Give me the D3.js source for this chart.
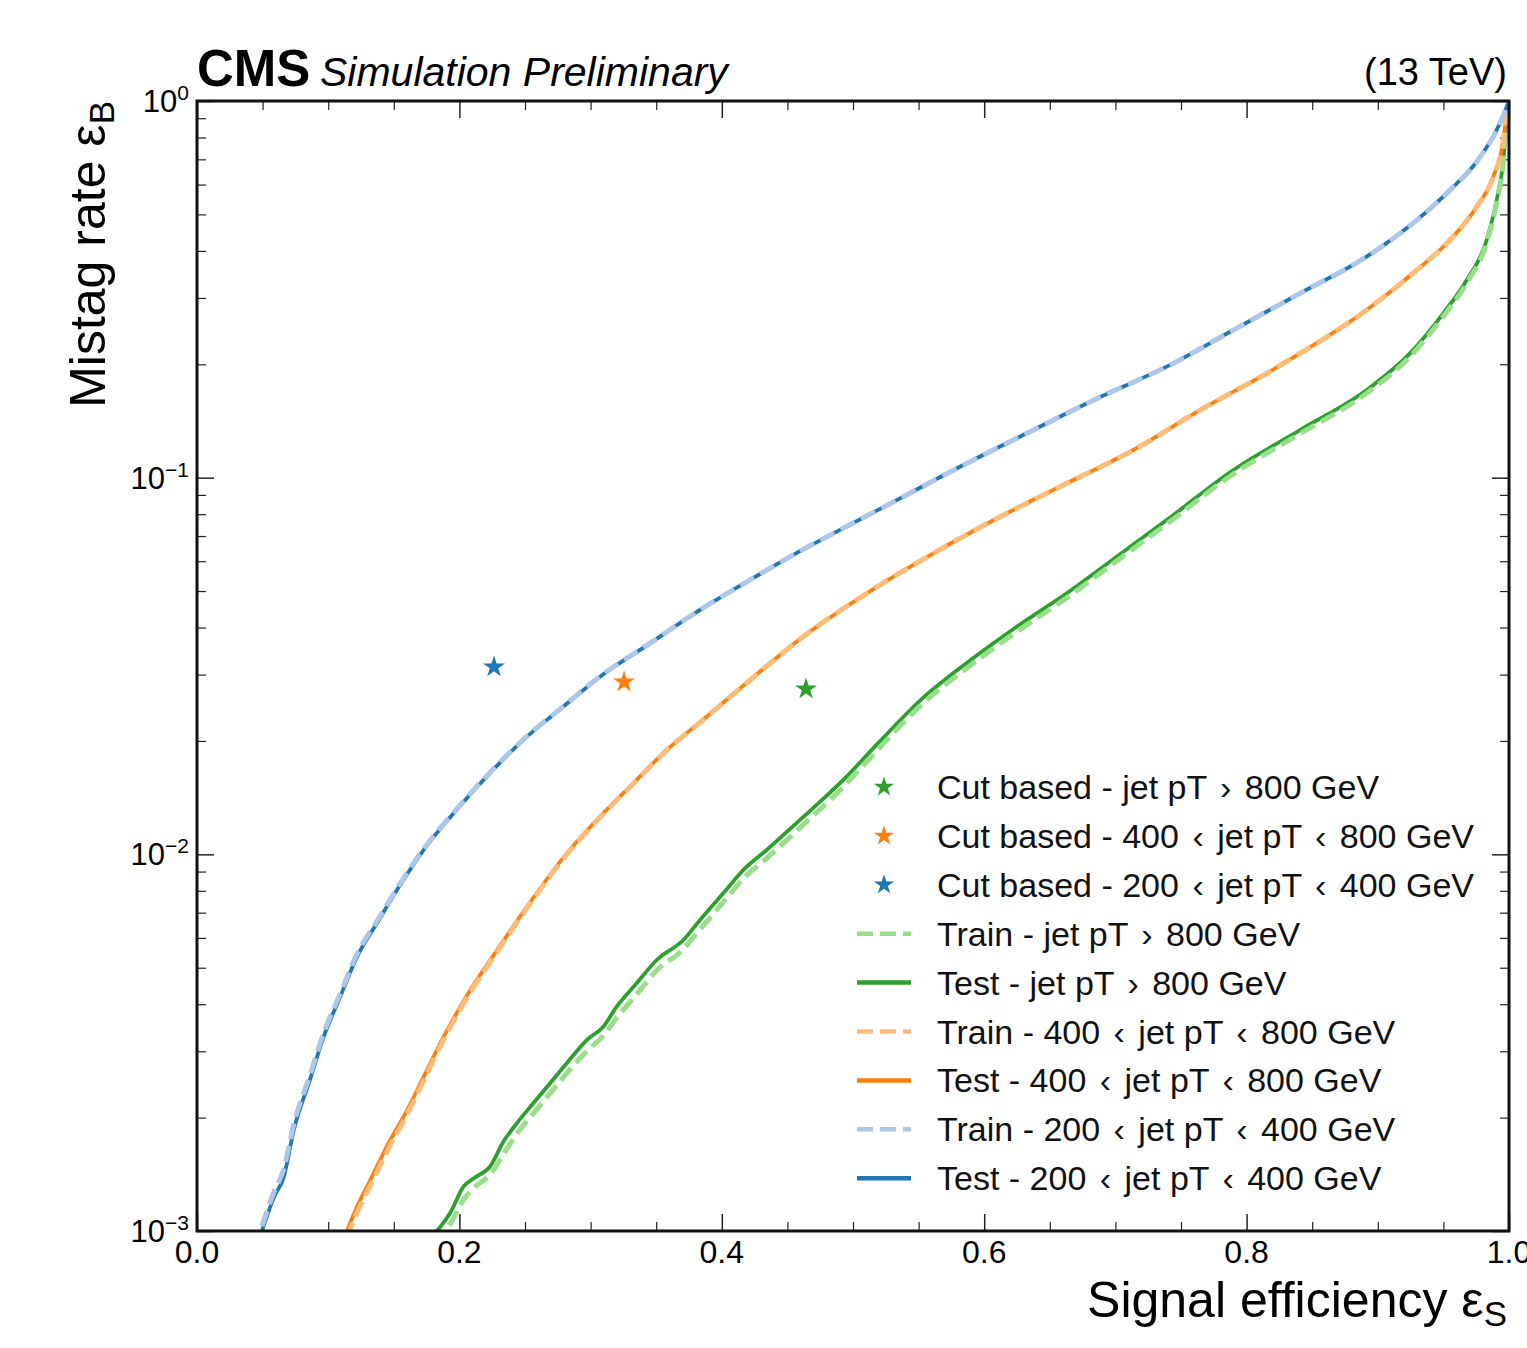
<!DOCTYPE html>
<html>
<head>
<meta charset="utf-8">
<script src="https://cdn.jsdelivr.net/npm/d3@7"></script>
<style>
  html, body { margin: 0; padding: 0; background: #fff; }
  svg { display: block; font-family: "Liberation Sans", Arial, Helvetica, sans-serif; }
</style>
</head>
<body>
<div id="chart"></div>
<script>
// ROC curves: mistag rate vs signal efficiency, three jet pT bins

// 200 < pT < 400 (blue)
const sigEffBlue = [0.0495,0.0587,0.0661,0.0737,0.0861,0.0966,0.1092,0.1220,0.1372,0.1524,0.1728,0.1979,0.2233,0.2487,0.2792,0.3072,0.3453,0.3834,0.4215,0.4596,0.4850,0.5358,0.5867,0.6374,0.6883,0.7391,0.7899,0.8407,0.8915,0.9297,0.9550,0.9754,0.9931,1.0];
const testBlue = [0.00100,0.00123,0.00139,0.00185,0.00252,0.00328,0.00419,0.00535,0.00657,0.00804,0.01028,0.01313,0.01644,0.02012,0.02467,0.02963,0.03633,0.04454,0.05351,0.06380,0.07113,0.08811,0.1092,0.1338,0.1637,0.1971,0.2466,0.3087,0.3861,0.4831,0.5802,0.6901,0.8727,1.0];
const trainBlue = [0.00103,0.00127,0.00146,0.00192,0.00259,0.00336,0.00427,0.00544,0.00665,0.00812,0.01035,0.01318,0.01650,0.02018,0.02470,0.02966,0.03636,0.04456,0.05352,0.06382,0.07110,0.08805,0.1091,0.1337,0.1636,0.1970,0.2465,0.3086,0.3860,0.4830,0.5800,0.6900,0.8725,1.0];

// 400 < pT < 800 (orange)
const sigEffOrange = [0.1143,0.1220,0.1321,0.1473,0.1575,0.1728,0.1880,0.2083,0.2287,0.2515,0.2818,0.3072,0.3325,0.3580,0.3834,0.4088,0.4342,0.4596,0.5104,0.5612,0.6120,0.6629,0.7137,0.7645,0.8153,0.8407,0.8915,0.9297,0.9550,0.9754,0.9880,0.9957,0.9982,1.0];
const testOrange = [0.00100,0.001161,0.001366,0.001744,0.002011,0.002568,0.003279,0.004362,0.005570,0.007261,0.01006,0.01259,0.01544,0.01892,0.02243,0.02665,0.03162,0.03729,0.04932,0.06298,0.07873,0.09661,0.1184,0.1512,0.1893,0.2138,0.2787,0.3558,0.4275,0.5240,0.6295,0.7880,0.9275,1.0];
const trainOrange = [0.00096,0.00112,0.00132,0.00169,0.00196,0.00251,0.00322,0.00430,0.00551,0.00720,0.01000,0.01254,0.01540,0.01889,0.02241,0.02663,0.03160,0.03727,0.04930,0.06296,0.07870,0.09658,0.1183,0.1511,0.1892,0.2137,0.2786,0.3557,0.4274,0.5239,0.6294,0.7879,0.9274,1.0];

// pT > 800 (green)
const sigEffGreen = [0.1829,0.1928,0.2031,0.2119,0.2233,0.2336,0.2437,0.2563,0.2691,0.2818,0.2970,0.3097,0.3199,0.3351,0.3504,0.3707,0.3834,0.4011,0.4164,0.4342,0.4596,0.4926,0.5206,0.5511,0.5867,0.6248,0.6629,0.7010,0.7391,0.7899,0.8407,0.8915,0.9245,0.9499,0.9678,0.9830,0.9906,0.9957,0.9982,1.0];
const testGreen = [0.00100,0.001114,0.001311,0.001387,0.001482,0.001728,0.001931,0.002183,0.002467,0.002788,0.003214,0.003487,0.003940,0.004546,0.005242,0.005923,0.006694,0.007879,0.009088,0.01027,0.01234,0.01576,0.01997,0.02560,0.03222,0.04021,0.04932,0.06168,0.07717,0.1048,0.1338,0.1709,0.2138,0.2731,0.3347,0.4275,0.5460,0.6973,0.8906,1.0];
const trainGreen = [0.00092,0.00104,0.00121,0.00131,0.00141,0.00160,0.00181,0.00205,0.00232,0.00262,0.00300,0.00330,0.00368,0.00425,0.00492,0.00560,0.00632,0.00746,0.00862,0.00976,0.01176,0.01510,0.01925,0.02475,0.03120,0.03900,0.04795,0.06010,0.07530,0.10230,0.13080,0.16750,0.20950,0.26800,0.32900,0.42100,0.53900,0.69000,0.88500,1.0];

// cut based working points (green, orange, blue)
const cutEff = [0.4642, 0.3255, 0.2264];
const cutMistag = [0.02748, 0.02868, 0.03144];

const legendLabels = [
  'Cut based - jet pT \u203a 800 GeV',
  'Cut based - 400 \u2039 jet pT \u2039 800 GeV',
  'Cut based - 200 \u2039 jet pT \u2039 400 GeV',
  'Train - jet pT \u203a 800 GeV',
  'Test - jet pT \u203a 800 GeV',
  'Train - 400 \u2039 jet pT \u2039 800 GeV',
  'Test - 400 \u2039 jet pT \u2039 800 GeV',
  'Train - 200 \u2039 jet pT \u2039 400 GeV',
  'Test - 200 \u2039 jet pT \u2039 400 GeV'
];

const xMajor = [0.0, 0.2, 0.4, 0.6, 0.8, 1.0];
const yMajor = [1e-3, 1e-2, 1e-1, 1];
const yExp = ['\u22123', '\u22122', '\u22121', '0'];

// colours
const dark = {green: '#2ca02c', orange: '#ff7f0e', blue: '#1f77b4'};
const light = {green: '#98df8a', orange: '#ffbb78', blue: '#aec7e8'};

const W = 1527, H = 1348;
const margin = {top: 101, right: 18, bottom: 117, left: 197};
const width = W - margin.left - margin.right;   // 1312
const height = H - margin.top - margin.bottom;  // 1130

const svg = d3.select('#chart').append('svg')
  .attr('width', W).attr('height', H);

const g = svg.append('g').attr('transform', `translate(${margin.left},${margin.top})`);

const x = d3.scaleLinear().domain([0, 1]).range([0, width]);
const y = d3.scaleLog().domain([1e-3, 1]).range([height, 0]);

// minor tick values
const xMinor = d3.range(0, 1.0001, 0.05).filter(v => Math.abs(v * 5 - Math.round(v * 5)) > 1e-6);
const yMinor = [];
[1e-3, 1e-2, 1e-1].forEach(d => { for (let k = 2; k <= 9; k++) yMinor.push(d * k); });

svg.append('defs').append('clipPath').attr('id', 'plotclip')
  .append('rect').attr('width', width).attr('height', height);

// ticks (pointing inward, on all four sides)
function tickAxis(axis, transform, size, vals, sw) {
  const a = g.append('g').attr('transform', transform)
    .call(axis.tickValues(vals).tickSize(size).tickFormat(''));
  a.select('.domain').remove();
  a.selectAll('line').attr('stroke', '#222').attr('stroke-width', sw);
}
tickAxis(d3.axisBottom(x), `translate(0,${height})`, -17, xMajor, 1.5);
tickAxis(d3.axisBottom(x), `translate(0,${height})`, -9, xMinor, 1.2);
tickAxis(d3.axisTop(x), 'translate(0,0)', -17, xMajor, 1.5);
tickAxis(d3.axisTop(x), 'translate(0,0)', -9, xMinor, 1.2);
tickAxis(d3.axisLeft(y), 'translate(0,0)', -17, yMajor, 1.5);
tickAxis(d3.axisLeft(y), 'translate(0,0)', -9, yMinor, 1.2);
tickAxis(d3.axisRight(y), `translate(${width},0)`, -17, yMajor, 1.5);
tickAxis(d3.axisRight(y), `translate(${width},0)`, -9, yMinor, 1.2);

// tick labels
g.selectAll('.xlab').data(xMajor).enter().append('text')
  .attr('x', d => x(d)).attr('y', height + 32)
  .attr('text-anchor', 'middle').attr('font-size', 32)
  .text(d => d.toFixed(1));

const ylab = g.selectAll('.ylab').data(yMajor).enter().append('text')
  .attr('x', -8).attr('y', d => y(d) + 11)
  .attr('text-anchor', 'end').attr('font-size', 31);
ylab.append('tspan').text('10');
ylab.append('tspan').attr('dy', -12).attr('font-size', 21).text((d, i) => yExp[i]);

// curves
const line = d3.line().curve(d3.curveMonotoneX)
  .x(d => x(d[0])).y(d => y(d[1]));
const curves = g.append('g').attr('clip-path', 'url(#plotclip)');

const series = [
  {eff: sigEffGreen, test: testGreen, train: trainGreen, c: 'green'},
  {eff: sigEffOrange, test: testOrange, train: trainOrange, c: 'orange'},
  {eff: sigEffBlue, test: testBlue, train: trainBlue, c: 'blue'}
];
series.forEach(s => {
  curves.append('path').datum(s.eff.map((e, i) => [e, s.test[i]]))
    .attr('fill', 'none').attr('stroke', dark[s.c]).attr('stroke-width', 3.8)
    .attr('d', line);
  curves.append('path').datum(s.eff.map((e, i) => [e, s.train[i]]))
    .attr('fill', 'none').attr('stroke', light[s.c]).attr('stroke-width', 5)
    .attr('stroke-dasharray', '16,7')
    .attr('d', line);
});

// cut based stars
const star = d3.symbol().type(d3.symbolStar).size(150);
const starCols = ['green', 'orange', 'blue'];
g.selectAll('.cut').data(cutEff).enter().append('path')
  .attr('transform', (d, i) => `translate(${x(d)},${y(cutMistag[i])})`)
  .attr('d', star).attr('fill', (d, i) => dark[starCols[i]]);

// frame
g.append('rect').attr('width', width).attr('height', height)
  .attr('fill', 'none').attr('stroke', '#111').attr('stroke-width', 3);

// legend
const legendY0 = 787 - margin.top, legendStep = 48.9;
const legendKinds = ['star', 'star', 'star', 'train', 'test', 'train', 'test', 'train', 'test'];
const legendCols = ['green', 'orange', 'blue', 'green', 'green', 'orange', 'orange', 'blue', 'blue'];
const leg = g.append('g').attr('transform', `translate(${857 - margin.left},${legendY0})`);
legendLabels.forEach((lab, i) => {
  const ly = i * legendStep;
  const k = legendKinds[i], c = legendCols[i];
  if (k === 'star') {
    leg.append('path').attr('transform', `translate(27,${ly})`)
      .attr('d', d3.symbol().type(d3.symbolStar).size(125)).attr('fill', dark[c]);
  } else if (k === 'train') {
    leg.append('line').attr('x1', 0).attr('x2', 54).attr('y1', ly).attr('y2', ly)
      .attr('stroke', light[c]).attr('stroke-width', 4.5).attr('stroke-dasharray', '16,7');
  } else {
    leg.append('line').attr('x1', 0).attr('x2', 54).attr('y1', ly).attr('y2', ly)
      .attr('stroke', dark[c]).attr('stroke-width', 4.5);
  }
  // relation signs get a little extra room on both sides, like math text
  const t = leg.append('text').attr('x', 80).attr('y', ly + 12)
    .attr('font-size', 34).attr('fill', '#111');
  let afterSign = false;
  lab.split(/([\u2039\u203a])/).forEach(part => {
    const isSign = part === '\u2039' || part === '\u203a';
    const sp = t.append('tspan').text(part);
    if (isSign || afterSign) sp.attr('dx', 4);
    afterSign = isSign;
  });
});

// axis titles
const xt = svg.append('text').attr('x', 1507).attr('y', 1317)
  .attr('text-anchor', 'end').attr('font-size', 50);
xt.append('tspan').text('Signal efficiency \u03b5');
xt.append('tspan').attr('dy', 9).attr('font-size', 35).text('S');

const yt = svg.append('text').attr('transform', 'translate(105,101) rotate(-90)')
  .attr('text-anchor', 'end').attr('font-size', 50);
yt.append('tspan').text('Mistag rate \u03b5');
yt.append('tspan').attr('dy', 9).attr('font-size', 35).text('B');

// header
svg.append('text').attr('x', 197).attr('y', 86)
  .attr('font-size', 51).attr('font-weight', 'bold').text('CMS');
svg.append('text').attr('x', 320).attr('y', 86)
  .attr('font-size', 41).attr('font-style', 'italic').text('Simulation Preliminary');
svg.append('text').attr('x', 1507).attr('y', 85)
  .attr('font-size', 38).attr('text-anchor', 'end').text('(13 TeV)');
</script>
</body>
</html>
